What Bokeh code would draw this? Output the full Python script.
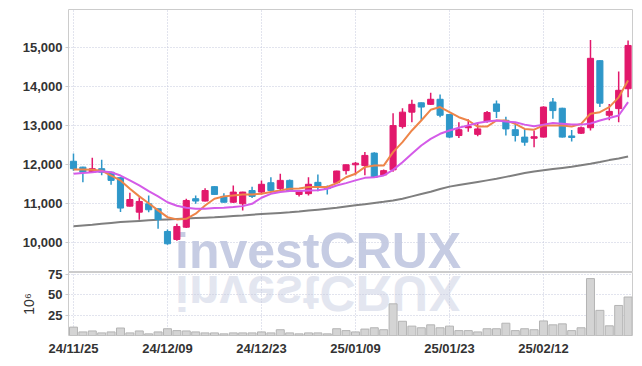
from bokeh.plotting import figure
from bokeh.models import Range1d, FixedTicker, NumeralTickFormatter, ColumnDataSource, Div
from bokeh.layouts import column
from bokeh.embed import file_html
from bokeh.resources import INLINE

dates = ["24/11/25", "24/11/26", "24/11/27", "24/11/28", "24/11/29",
         "24/12/02", "24/12/03", "24/12/04", "24/12/05", "24/12/06",
         "24/12/09", "24/12/10", "24/12/11", "24/12/12", "24/12/13",
         "24/12/16", "24/12/17", "24/12/18", "24/12/19", "24/12/20",
         "24/12/23", "24/12/24", "24/12/26", "24/12/27", "24/12/30",
         "25/01/02", "25/01/03", "25/01/06", "25/01/07", "25/01/08",
         "25/01/09", "25/01/10", "25/01/13", "25/01/14", "25/01/15",
         "25/01/16", "25/01/17", "25/01/20", "25/01/21", "25/01/22",
         "25/01/23", "25/01/24", "25/01/31", "25/02/03", "25/02/04",
         "25/02/05", "25/02/06", "25/02/07", "25/02/10", "25/02/11",
         "25/02/12", "25/02/13", "25/02/14", "25/02/17", "25/02/18",
         "25/02/19", "25/02/20", "25/02/21", "25/02/24", "25/02/25"]

opens = [12090, 11940, 11810, 11900, 11810, 11670, 10940, 10785, 11000, 10872,
         10290, 10085, 10400, 11130, 11070, 11440, 11190, 11040, 11000, 11340,
         11300, 11540, 11390, 11600, 11240, 11260, 11550, 11430, 11540, 11850,
         12000, 11980, 12300, 11740, 11870, 12980, 13350, 13590, 13550, 13680,
         13290, 12750, 12950, 12780, 13110, 13560, 13140, 12900, 12710, 12680,
         12710, 13610, 13450, 12740, 12810, 12950, 14670, 13270, 13440, 13950]
highs = [12290, 11950, 12180, 12130, 11820, 11680, 11280, 11170, 11210, 10880,
         10340, 10487, 11130, 11210, 11400, 11450, 11270, 11470, 11310, 11440,
         11600, 11680, 11770, 11620, 11330, 11680, 11750, 11470, 11850, 12010,
         12070, 12330, 12320, 11880, 13320, 13450, 13670, 13600, 13850, 13800,
         13300, 13090, 13170, 13090, 13380, 13650, 13230, 13090, 12920, 12880,
         13500, 13710, 13460, 12890, 12980, 15200, 14680, 13560, 14390, 15190]
lows = [11850, 11550, 11790, 11730, 11490, 10790, 10930, 10590, 10785, 10360,
        9950, 10050, 10380, 11000, 11060, 11230, 11030, 11020, 10830, 11150,
        11240, 11330, 11350, 11300, 11190, 11210, 11320, 11240, 11530, 11750,
        11730, 11730, 11660, 11720, 11820, 12930, 13090, 13140, 13530, 13220,
        12680, 12690, 12850, 12730, 13080, 13200, 12750, 12600, 12490, 12450,
        12700, 13180, 12700, 12600, 12790, 12880, 13480, 13140, 13090, 13730]
closes = [11900, 11810, 11900, 11810, 11600, 10890, 11110, 11060, 10846, 10597,
          9975, 10418, 11085, 11070, 11340, 11240, 11040, 11300, 11300, 11190,
          11500, 11340, 11600, 11320, 11320, 11500, 11430, 11390, 11840, 12000,
          12040, 12240, 11680, 11850, 13005, 13350, 13550, 13480, 13680, 13270,
          12710, 12900, 12980, 12920, 13340, 13370, 12920, 12750, 12580, 12720,
          13480, 13390, 12710, 12700, 12950, 14730, 13580, 13370, 13910, 15060]

ma_short = [11880, 11880, 11870, 11850, 11725, 11600, 11385, 11190, 11015, 10830,
            10657, 10600, 10615, 10745, 10955, 11130, 11190, 11215, 11240, 11240,
            11255, 11300, 11340, 11385, 11390, 11430, 11430, 11430, 11530, 11680,
            11770, 11940, 11980, 11980, 12325, 12580, 12880, 13135, 13410, 13480,
            13350, 13220, 13135, 12980, 12980, 13135, 13135, 13050, 12920, 12900,
            13010, 13010, 13010, 12980, 13050, 13310, 13350, 13480, 13730, 14160]
ma_mid = [11770, 11790, 11810, 11835, 11810, 11725, 11600, 11470, 11325, 11190,
          11040, 10950, 10900, 10870, 10870, 10890, 10900, 10915, 10940, 11000,
          11155, 11255, 11300, 11325, 11325, 11340, 11350, 11385, 11470, 11530,
          11600, 11665, 11680, 11725, 11870, 12065, 12280, 12495, 12665, 12795,
          12880, 12950, 13010, 13070, 13110, 13135, 13110, 13090, 13030, 12990,
          13030, 13070, 13050, 13030, 13030, 13060, 13135, 13200, 13265, 13605]
ma_long = [10425, 10445, 10465, 10490, 10510, 10530, 10545, 10560, 10575, 10590,
           10600, 10610, 10620, 10635, 10645, 10655, 10670, 10685, 10700, 10720,
           10735, 10750, 10765, 10780, 10800, 10825, 10850, 10875, 10900, 10930,
           10960, 10990, 11020, 11050, 11085, 11130, 11190, 11250, 11310, 11380,
           11440, 11480, 11520, 11560, 11600, 11640, 11690, 11740, 11790, 11830,
           11860, 11890, 11920, 11950, 11990, 12025, 12070, 12120, 12160, 12210]

volumes = [10.3, 4.4, 5.6, 3.2, 4.4, 9.2, 3.2, 5.6, 2.0, 4.4,
           8.3, 6.0, 5.6, 4.4, 3.2, 3.2, 2.0, 3.2, 3.2, 3.2,
           4.4, 3.2, 7.1, 3.2, 2.0, 3.2, 3.2, 2.0, 8.3, 6.0,
           4.4, 7.9, 9.5, 7.1, 38.9, 17.5, 11.5, 9.5, 13.1, 9.5,
           11.5, 6.0, 6.0, 4.4, 8.3, 8.3, 15.1, 6.0, 8.3, 7.1,
           17.9, 13.1, 14.3, 6.0, 9.5, 69.9, 30.9, 11.9, 36.9, 47.3]

price_ticks = [10000, 11000, 12000, 13000, 14000, 15000]
volume_ticks = [25, 50, 75]
date_tick_idx = [0, 10, 20, 30, 40, 50]

UP = "#e2186c"
DOWN = "#2e97c9"
FONT = "Liberation Sans"
GRID = "#c5c9dc"

idx = list(range(len(dates)))
colors = [UP if c >= o else DOWN for o, c in zip(opens, closes)]
src = ColumnDataSource(dict(
    x=idx, open=opens, high=highs, low=lows, close=closes,
    top=[max(o, c) for o, c in zip(opens, closes)],
    bottom=[min(o, c) for o, c in zip(opens, closes)],
    color=colors, ma_s=ma_short, ma_m=ma_mid, ma_l=ma_long, vol=volumes,
))

xr = Range1d(-0.53, 59.47)


def style(fig):
    fig.outline_line_color = "#cccccc"
    fig.outline_line_width = 1
    fig.background_fill_alpha = 0
    fig.border_fill_alpha = 0
    for ax in fig.yaxis:
        ax.axis_line_color = None
        ax.major_tick_line_color = "#cccccc"
        ax.major_tick_out = 3
        ax.major_tick_in = 0
        ax.minor_tick_line_color = None
        ax.major_label_standoff = 3
        ax.major_label_text_font = FONT
        ax.major_label_text_font_style = "bold"
        ax.major_label_text_font_size = "13px"
        ax.major_label_text_color = "#333333"
    for g in fig.grid:
        g.grid_line_color = GRID
        g.grid_line_dash = "1 2"
        g.grid_line_width = 1
    fig.xgrid.ticker = FixedTicker(ticks=date_tick_idx)


# watermark with its reflection, placed behind the (transparent) plots
wm_style = "position:absolute;left:0;font:bold 50px 'Liberation Sans';line-height:40px;height:40px;white-space:nowrap;"
watermark = Div(
    text='<div style="position:relative;width:420px;height:110px;pointer-events:none;">'
         f'<div style="{wm_style}top:4.7px;color:#c6cce3;">investCRUX</div>'
         f'<div style="{wm_style}top:47.3px;color:#e3e6f0;transform:scaleY(-1);">investCRUX</div>'
         '</div>',
    width=420, height=110, margin=(226, 0, -336, 175))

p_price = figure(width=640, height=272, x_range=xr, y_range=Range1d(9238, 15982),
                 output_backend="svg", toolbar_location=None,
                 min_border_left=68, min_border_right=8, min_border_top=9, min_border_bottom=0)
p_price.xaxis.visible = False
style(p_price)
p_price.yaxis.ticker = FixedTicker(ticks=price_ticks)
p_price.yaxis.formatter = NumeralTickFormatter(format="0,0")
p_price.ygrid.ticker = FixedTicker(ticks=price_ticks)

p_price.line("x", "ma_l", source=src, line_color="#7f7f7f", line_width=2)
p_price.segment(x0="x", y0="high", x1="x", y1="low", source=src, line_color="color", line_width=1.5)
p_price.vbar(x="x", width=0.65, top="top", bottom="bottom", source=src,
             fill_color="color", line_color="color", line_width=1)
p_price.line("x", "ma_s", source=src, line_color="#ee8549", line_width=2)
p_price.line("x", "ma_m", source=src, line_color="#d45be8", line_width=2)

# volume panel: canvas starts 10px higher (overlapping the transparent price canvas)
# so that the "75" tick label is not clipped
p_vol = figure(width=640, height=96, x_range=xr, y_range=Range1d(0, 77.4),
               output_backend="svg", toolbar_location=None,
               min_border_left=68, min_border_right=8, min_border_top=10, min_border_bottom=21,
               margin=(-10, 0, 0, 0))
style(p_vol)
p_vol.yaxis.ticker = FixedTicker(ticks=volume_ticks)
p_vol.ygrid.ticker = FixedTicker(ticks=volume_ticks)
p_vol.yaxis.axis_label = "10\u2076"
p_vol.yaxis.axis_label_text_font = FONT
p_vol.yaxis.axis_label_text_font_style = "normal"
p_vol.yaxis.axis_label_text_font_size = "14px"
p_vol.yaxis.axis_label_text_color = "#333333"
p_vol.yaxis.axis_label_standoff = 8
p_vol.xaxis.ticker = FixedTicker(ticks=date_tick_idx)
p_vol.xaxis.major_label_overrides = {i: dates[i] for i in date_tick_idx}
p_vol.xaxis.axis_line_color = None
p_vol.xaxis.major_tick_line_color = None
p_vol.xaxis.major_tick_out = 0
p_vol.xaxis.minor_tick_line_color = None
p_vol.xaxis.major_label_standoff = 5
p_vol.xaxis.major_label_text_font = FONT
p_vol.xaxis.major_label_text_font_style = "bold"
p_vol.xaxis.major_label_text_font_size = "13px"
p_vol.xaxis.major_label_text_color = "#333333"
p_vol.vbar(x="x", top="vol", width=0.85, source=src, fill_color="#d4d4d4",
           line_color="#b4b4b4", line_width=1)

p = column(watermark, p_price, p_vol, spacing=0)

open("out.html", "w").write(file_html(p, INLINE))
